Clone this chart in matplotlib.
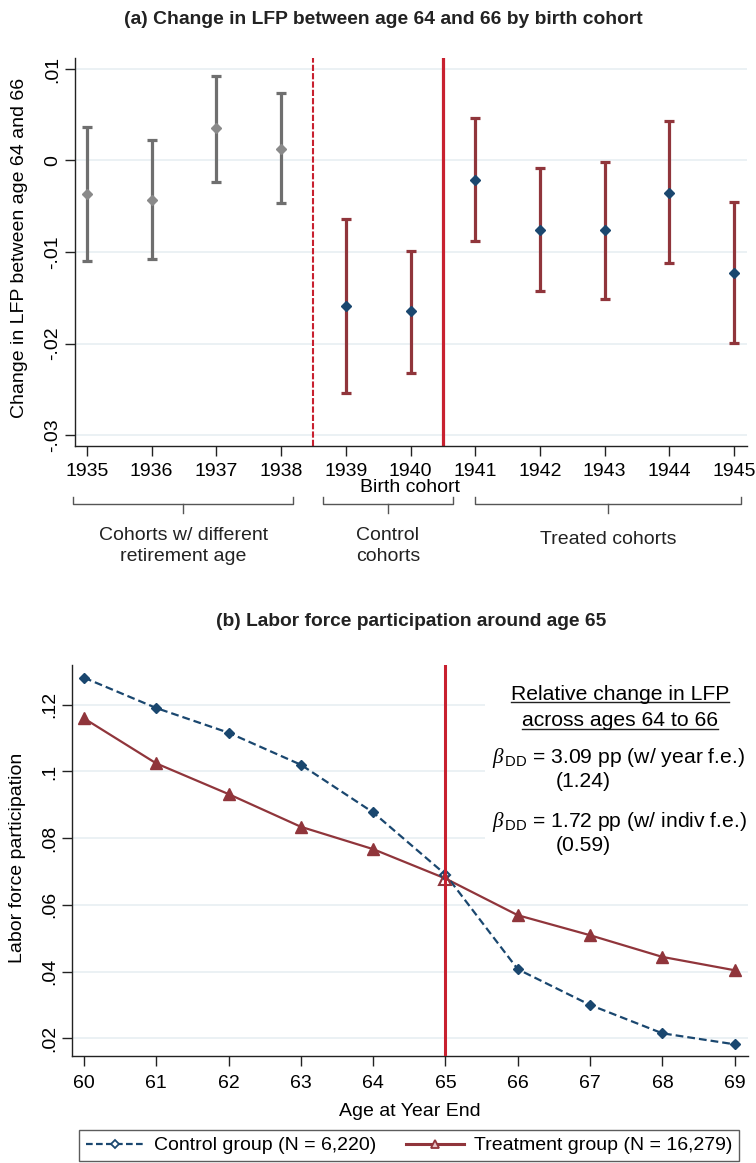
import matplotlib
matplotlib.use("Agg")
import matplotlib.pyplot as plt
import matplotlib.transforms as mtransforms
from matplotlib.lines import Line2D
from matplotlib.patches import Rectangle
from matplotlib.ticker import FuncFormatter

plt.rcParams["font.family"] = ["Liberation Sans", "DejaVu Sans"]
plt.rcParams["mathtext.fontset"] = "custom"
plt.rcParams["mathtext.rm"] = "Liberation Sans"
plt.rcParams["mathtext.it"] = "Liberation Serif:italic"

# ---- panel (a): change in LFP between 64 and 66, by birth cohort ----
cohorts = [1935, 1936, 1937, 1938, 1939, 1940, 1941, 1942, 1943, 1944, 1945]
estimate = [-0.0037, -0.0043, 0.0035, 0.0013, -0.0159, -0.0165,
            -0.0021, -0.0076, -0.0076, -0.0035, -0.0123]
ci_low = [-0.0110, -0.0108, -0.0023, -0.0047, -0.0254, -0.0232,
          -0.0088, -0.0143, -0.0151, -0.0112, -0.0199]
ci_high = [0.0037, 0.0022, 0.0092, 0.0074, -0.0064, -0.0099,
           0.0046, -0.0008, -0.0002, 0.0043, -0.0045]
n_other = 4  # 1935-1938: different retirement age
a_yticks = [-0.03, -0.02, -0.01, 0, 0.01]
group_labels = ["Cohorts w/ different\nretirement age", "Control\ncohorts", "Treated cohorts"]

# ---- panel (b): LFP around age 65 ----
ages = [60, 61, 62, 63, 64, 65, 66, 67, 68, 69]
lfp_control = [0.1281, 0.1190, 0.1116, 0.1020, 0.0877, 0.0691, 0.0407, 0.0300, 0.0215, 0.0182]
lfp_treat = [0.1159, 0.1024, 0.0932, 0.0834, 0.0767, 0.0679, 0.0569, 0.0509, 0.0444, 0.0404]
ref_age = 65
b_yticks = [0.02, 0.04, 0.06, 0.08, 0.10, 0.12]
legend_labels = ["Control group (N = 6,220)", "Treatment group (N = 16,279)"]

GRAY_BAR = "#6f6f6f"
GRAY_PT = "#8a8a8a"
CRAN = "#90353b"
NAVY = "#1a476f"
RED = "#c8202f"
GRID = "#e9f0f3"
FS = 14

W, H = 756, 1163


def fx(px):
    return px / W


def fy(py):
    return 1 - py / H


def stata_fmt(v, pos):
    s = f"{round(v, 4):g}"
    return s.replace("0.", ".")


def style_axis(ax):
    for side in ("top", "right"):
        ax.spines[side].set_visible(False)
    for side in ("left", "bottom"):
        ax.spines[side].set_linewidth(1.0)
        ax.spines[side].set_color("#222222")
    ax.yaxis.grid(True, color=GRID, lw=1.3, zorder=0)
    ax.set_axisbelow(True)
    ax.yaxis.set_major_formatter(FuncFormatter(stata_fmt))
    ax.tick_params(axis="both", length=7, width=1, color="#222222", labelsize=FS)
    ax.tick_params(axis="y", labelrotation=90, pad=3)


fig = plt.figure(figsize=(W / 100, H / 100), dpi=100)

# ---------------- panel (a) ----------------
ax = fig.add_axes([fx(75), fy(446), 672 / W, 388 / H])
style_axis(ax)
ax.set_xlim(1934.815, 1945.2)
ax.set_ylim(-0.0312, 0.0112)
ax.set_yticks(a_yticks)
ax.set_xticks(cohorts)
ax.tick_params(axis="x", pad=5)
for lab in ax.get_yticklabels():
    lab.set_va("center")

groups = [(slice(0, n_other), GRAY_BAR, GRAY_PT), (slice(n_other, None), CRAN, NAVY)]
for sl, bar_c, pt_c in groups:
    x = cohorts[sl]
    y = estimate[sl]
    lo = [e - l for e, l in zip(y, ci_low[sl])]
    hi = [h - e for e, h in zip(y, ci_high[sl])]
    ax.errorbar(x, y, yerr=[lo, hi], fmt="none", ecolor=bar_c, elinewidth=2.3,
                capsize=3.3, capthick=2.3, zorder=3)
    ax.plot(x, y, ls="none", marker="D", ms=5.6, color=pt_c, zorder=4)

ax.axvline(1938.5, color=RED, lw=1.5, ls=(0, (3, 1)), zorder=2)
ax.axvline(1940.5, color=RED, lw=2.3, zorder=2)

fig.text(fx(20), fy(248), "Change in LFP between age 64 and 66", rotation=90,
         ha="center", va="center", fontsize=FS)
fig.text(fx(383), fy(20), "(a) Change in LFP between age 64 and 66 by birth cohort",
         ha="center", va="center", fontsize=13.9, fontweight="bold", color="#222222")
fig.text(fx(410), fy(487), "Birth cohort", ha="center", va="center", fontsize=FS)

# braces under the cohort axis
trans = mtransforms.blended_transform_factory(ax.transData, ax.transAxes)
y_top, y_mid, y_bot = -0.131, -0.150, -0.172
braces = [(1934.79, 1938.18), (1938.64, 1940.66), (1941.0, 1945.1)]
label_y = [546, 546, 539]
for (x0, x1), text, ly in zip(braces, group_labels, label_y):
    xm = (x0 + x1) / 2
    ax.add_line(Line2D([x0, x0, x1, x1], [y_top, y_mid, y_mid, y_top], transform=trans,
                       color="#555555", lw=1.0, clip_on=False))
    ax.add_line(Line2D([xm, xm], [y_mid, y_bot], transform=trans,
                       color="#555555", lw=1.0, clip_on=False))
    xpix = ax.transData.transform((xm, 0))[0]
    fig.text(xpix / W, fy(ly), text, ha="center", va="center", fontsize=FS,
             linespacing=1.25, color="#222222")

# ---------------- panel (b) ----------------
bx = fig.add_axes([fx(71.7), fy(1056), 676 / W, 391 / H])
style_axis(bx)
bx.set_xlim(59.83, 69.18)
bx.set_ylim(0.0147, 0.1319)
bx.set_yticks(b_yticks)
bx.set_xticks(ages)
bx.tick_params(axis="x", pad=7)
for lab in bx.get_yticklabels():
    lab.set_va("center")

# white panel behind the annotation
bx.add_patch(Rectangle((65.55, 0.0704), 69.18 - 65.55, 0.0619, facecolor="white",
                       edgecolor="none", zorder=1))

ref_i = ages.index(ref_age)
others = [i for i in range(len(ages)) if i != ref_i]
bx.plot(ages, lfp_control, color=NAVY, lw=1.6, ls=(0, (3.5, 1.8)), marker="D", ms=4.6,
        markevery=others, zorder=4)
bx.plot(ages, lfp_treat, color=CRAN, lw=1.6, marker="^", ms=8, markevery=others, zorder=3)
bx.plot([ref_age], [lfp_control[ref_i]], ls="none", marker="D", ms=4.6, mfc="none",
        mec=NAVY, mew=1.5, zorder=5)
bx.plot([ref_age], [lfp_treat[ref_i]], ls="none", marker="^", ms=8, mfc="none",
        mec=CRAN, mew=1.5, zorder=5)
bx.axvline(ref_age, color=RED, lw=2.2, zorder=6)

fig.text(fx(18), fy(858), "Labor force participation", rotation=90,
         ha="center", va="center", fontsize=FS)
fig.text(fx(411), fy(621), "(b) Labor force participation around age 65",
         ha="center", va="center", fontsize=13.8, fontweight="bold", color="#222222")
fig.text(fx(410), fy(1111), "Age at Year End", ha="center", va="center", fontsize=FS)

# annotation
ann_fs = 15.2
t1 = fig.text(fx(620), fy(700.5), "Relative change in LFP", ha="center", va="baseline",
              fontsize=ann_fs)
t2 = fig.text(fx(620), fy(726.5), "across ages 64 to 66", ha="center", va="baseline",
              fontsize=ann_fs)
fig.text(fx(492), fy(763), r"$\beta_{\,\rm DD}$ = 3.09 pp (w/ year f.e.)", ha="left",
         va="baseline", fontsize=ann_fs)
fig.text(fx(556), fy(787), "(1.24)", ha="left", va="baseline", fontsize=ann_fs)
fig.text(fx(492), fy(827), r"$\beta_{\,\rm DD}$ = 1.72 pp (w/ indiv f.e.)", ha="left",
         va="baseline", fontsize=ann_fs)
fig.text(fx(556), fy(851), "(0.59)", ha="left", va="baseline", fontsize=ann_fs)

renderer = fig.canvas.get_renderer()
for t, uy in ((t1, 702), (t2, 728.5)):
    bb = t.get_window_extent(renderer)
    fig.add_artist(Line2D([bb.x0 / W, bb.x1 / W], [fy(uy), fy(uy)], transform=fig.transFigure,
                          color="#222222", lw=1.0))

# legend
h_c = Line2D([], [], color=NAVY, lw=1.6, ls=(0, (3, 1.5)), marker="D", ms=4,
             mfc="white", mec=NAVY, mew=1.3)
h_t = Line2D([], [], color=CRAN, lw=2.2, marker="^", ms=6, mfc="#e8c4c8", mec=CRAN, mew=1.3)
leg = fig.legend([h_c, h_t], legend_labels, loc="upper center",
                 bbox_to_anchor=(fx(409), fy(1130)), ncol=2, fontsize=FS, frameon=True,
                 fancybox=False, edgecolor="#333333", handlelength=3.0, handletextpad=0.5,
                 columnspacing=1.5, borderpad=0.35, borderaxespad=0)
leg.get_frame().set_linewidth(1.0)

fig.savefig("out.png", dpi=100)
